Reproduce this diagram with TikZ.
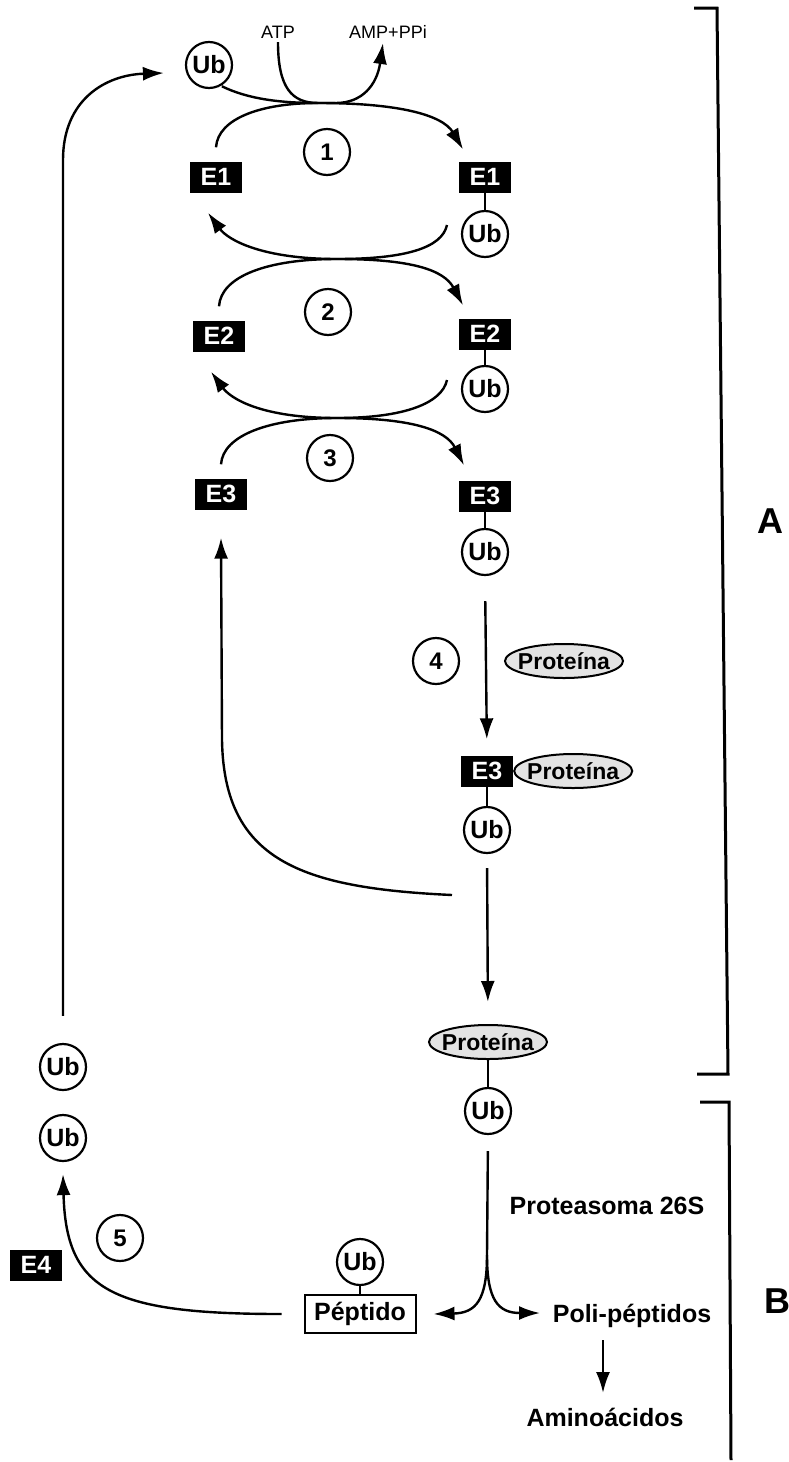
\documentclass[tikz,border=0pt]{standalone}
\usepackage{fontspec}
\setmainfont{Liberation Sans}
\usetikzlibrary{arrows.meta,shapes.geometric}
\newcommand\fsz[1]{\fontsize{#1}{#1}\selectfont}
\begin{document}
\begin{tikzpicture}[x=1pt,y=-1pt,
  ln/.style={line width=2.4pt},
  arr/.style={line width=2.4pt,-{Latex[length=21pt,width=14pt]}},
  link/.style={line width=2pt},
  ubc/.style={circle,draw,line width=2.2pt,minimum size=46pt,inner sep=0pt,font=\fsz{25}\bfseries},
  numc/.style={circle,draw,line width=2.2pt,minimum size=46pt,inner sep=0pt,font=\fsz{24}\bfseries},
  ebox/.style={rectangle,fill=black,text=white,minimum width=52pt,minimum height=31pt,inner sep=0pt,font=\fsz{25}\bfseries},
  prot/.style={ellipse,draw,line width=2pt,fill=gray!22,minimum width=118pt,minimum height=34pt,inner xsep=-12pt,inner ysep=0pt,font=\fsz{23}\bfseries},
  pbox/.style={rectangle,draw,line width=2pt,minimum width=111pt,minimum height=38pt,inner sep=0pt,font=\fsz{25}\bfseries},
  btxt/.style={inner sep=0pt,anchor=base,font=\fsz{25}\bfseries},
  stxt/.style={inner sep=0pt,anchor=base,font=\fsz{18}},
  bigl/.style={inner sep=0pt,anchor=base,font=\fsz{36}\bfseries},
  brk/.style={line width=3pt}
]
\fill[white] (0,0) rectangle (789,1462);
\useasboundingbox (0,0) rectangle (789,1462);

% ---------- nodes ----------
\node[ubc] (ub0) at (209,65) {Ub};
\node[stxt] (atp) at (278,38) {ATP};
\node[stxt] (amp) at (388,38) {AMP+PPi};

\node[ebox] (e1l) at (216,177) {E1};
\node[ebox] (e1r) at (485,177) {E1};
\node[ubc] (ub1) at (485,234) {Ub};
\node[numc] (c1) at (327,152) {1};

\node[ebox] (e2l) at (219,336) {E2};
\node[ebox] (e2r) at (485,334) {E2};
\node[ubc] (ub2) at (485,389) {Ub};
\node[numc] (c2) at (328,312) {2};

\node[ebox] (e3l) at (221,494) {E3};
\node[ebox] (e3r) at (485,496) {E3};
\node[ubc] (ub3) at (485,552) {Ub};
\node[numc] (c3) at (330,458) {3};

\node[numc] (c4) at (436,661) {4};
\node[prot] (p1) at (564,661) {Proteína};

\node[ebox] (e3b) at (487,771) {E3};
\node[prot,anchor=west] (p2) at (e3b.east) {Proteína};
\node[ubc] (ub4) at (487,830) {Ub};

\node[prot] (p3) at (488,1042) {Proteína};
\node[ubc] (ub5) at (488,1111) {Ub};

\node[btxt] (prot26) at (607,1214) {Proteasoma 26S};
\node[pbox] (pep) at (360,1314) {Péptido};
\node[ubc] (ubp) at (360,1262) {Ub};
\node[btxt] (poli) at (632,1322) {Poli-péptidos};
\node[btxt] (amino) at (605,1426) {Aminoácidos};

\node[ubc] (ubl1) at (63,1067) {Ub};
\node[ubc] (ubl2) at (63,1138) {Ub};
\node[numc] (c5) at (120,1238) {5};
\node[ebox] (e4) at (36,1265) {E4};

\node[bigl] (la) at (770,533) {A};
\node[bigl] (lb) at (777,1313) {B};

% ---------- helper coordinates ----------
\coordinate (m1) at (318,103);
\coordinate (m1b) at (336,103);
\coordinate (m2) at (337,259);
\coordinate (m3) at (337,418);
\coordinate (tA) at (383,43);
\coordinate (sL1) at ([yshift=14pt]e1l.north);
\coordinate (sL2) at ([yshift=14pt]e2l.north);
\coordinate (sL3) at ([yshift=14pt]e3l.north);
\coordinate (tR1) at ([xshift=-22pt,yshift=12pt]e1r.north);
\coordinate (tR2) at ([xshift=-22pt,yshift=13pt]e2r.north);
\coordinate (tR3) at ([xshift=-21pt,yshift=15pt]e3r.north);
\coordinate (tL1) at ([xshift=-8pt,yshift=-20pt]e1l.south);
\coordinate (tL2) at ([xshift=-8pt,yshift=-20pt]e2l.south);
\coordinate (sU1) at ([xshift=-38pt,yshift=9pt]ub1.center);
\coordinate (sU2) at ([xshift=-38pt,yshift=9pt]ub2.center);
\coordinate (lc) at (63,160);
\coordinate (t0) at ([xshift=-21pt,yshift=-8pt]ub0.west);
\coordinate (r0) at (452,895);
\coordinate (rv) at (222,740);
\coordinate (tE3) at ([yshift=-28pt]e3l.south);
\coordinate (sp) at (487,1255);
\coordinate (tp1) at ([xshift=17pt]pep.east);
\coordinate (tp2) at (540,1313);
\coordinate (pa) at (603,1340);
\coordinate (pb) at (603,1393);
\coordinate (t5) at ([yshift=-12pt]ubl2.south);

% ---------- stage 1 ----------
\draw[ln,shorten <=1pt] (ub0.-60) .. controls (248,99) and (280,103) .. (m1);
\draw[arr] (sL1) .. controls (218,118) and (262,103) .. (m1)
           .. controls (395,103) and (442,114) .. (tR1);
\draw[arr,shorten <=4pt] (atp.south) .. controls (278,88) and (292,103) .. (m1)
           -- (m1b) .. controls (362,103) and (377,85) .. (tA);

% ---------- stage 2 ----------
\draw[arr] (sU1) .. controls (442,248) and (405,259) .. (m2)
           .. controls (262,259) and (228,240) .. (tL1);
\draw[arr] (sL2) .. controls (221,276) and (268,259) .. (m2)
           .. controls (412,259) and (444,270) .. (tR2);

% ---------- stage 3 ----------
\draw[arr] (sU2) .. controls (442,403) and (405,418) .. (m3)
           .. controls (262,418) and (231,399) .. (tL2);
\draw[arr] (sL3) .. controls (223,435) and (270,418) .. (m3)
           .. controls (412,418) and (446,430) .. (tR3);

% ---------- links E - Ub ----------
\draw[link] (e1r.south) -- (ub1.north);
\draw[link] (e2r.south) -- (ub2.north);
\draw[link] (e3r.south) -- (ub3.north);
\draw[link] (e3b.south) -- (ub4.north);
\draw[link] (p3.south) -- (ub5.north);
\draw[link] (ubp.south) -- (pep.north);

% ---------- step 4 and transfer ----------
\draw[arr,shorten <=25pt,shorten >=16pt] (ub3.south) -- (e3b.north);
\draw[arr] (r0) .. controls (300,888) and (224,860) .. (rv) -- (tE3);
\draw[arr,shorten <=14pt,shorten >=22pt] (ub4.south) -- (p3.north);

% ---------- proteasome ----------
\draw[ln,shorten <=16pt] (ub5.south) -- (sp);
\draw[arr] (sp) .. controls (487,1300) and (476,1313) .. (tp1);
\draw[arr] (sp) .. controls (487,1300) and (498,1313) .. (tp2);
\draw[arr] (pa) -- (pb);

% ---------- recycling ----------
\draw[arr,shorten <=22pt] (pep.west) .. controls (110,1314) and (66,1290) .. (t5);
\draw[arr,shorten <=27pt] (ubl1.north) -- (lc) .. controls (63,100) and (105,75) .. (t0);

% ---------- brackets ----------
\draw[brk] (694,8) -- (717,8) -- (728,1074) -- (697,1074);
\draw[brk] (700,1102) -- (729,1102) -- (731,1460);
\end{tikzpicture}
\end{document}
